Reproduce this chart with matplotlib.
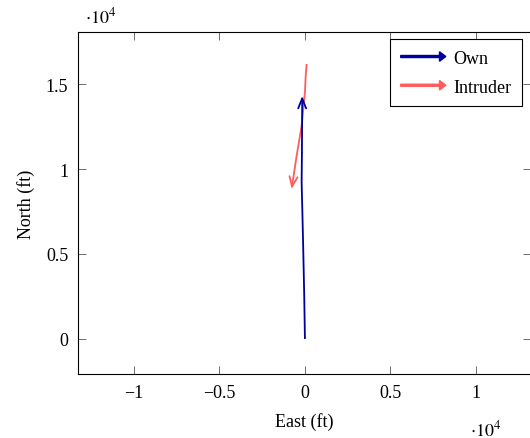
import matplotlib.pyplot as plt
import matplotlib.patches as mpatches
from matplotlib.legend_handler import HandlerPatch

plt.rcParams['font.family'] = ['Liberation Serif', 'DejaVu Serif']
plt.rcParams['mathtext.fontset'] = 'stix'
plt.rcParams['font.size'] = 13

# trajectories (ft)
own_east = [0, -40, -99, -150, -193, -175, -158]
own_north = [0, 2500, 5294, 7500, 9235, 11000, 14294]
intr_east = [99, 40, 0, -193, -485, -778]
intr_north = [16176, 15400, 14510, 12550, 10780, 8824]

own_color = '#00009a'
intr_color = '#ff5c5c'

fig = plt.figure(figsize=(5.30, 4.39), dpi=100)
ax = fig.add_axes([78 / 530, 64 / 439, 453 / 530, 342 / 439])


def draw_path(xs, ys, color):
    ax.plot(xs[:-1], ys[:-1], color=color, lw=1.3, solid_capstyle='butt')
    ax.annotate('', xy=(xs[-1], ys[-1]), xytext=(xs[-2], ys[-2]),
                arrowprops=dict(arrowstyle='->,head_length=0.55,head_width=0.22',
                                color=color, lw=1.3, shrinkA=0, shrinkB=0))


draw_path(own_east, own_north, own_color)
draw_path(intr_east, intr_north, intr_color)

ax.set_xlim(-1.327e4, 1.322e4)
ax.set_ylim(-0.206e4, 1.806e4)
ax.set_xticks([-1e4, -0.5e4, 0, 0.5e4, 1e4])
ax.set_xticklabels(['\u22121', '\u22120.5', '0', '0.5', '1'])
ax.set_yticks([0, 0.5e4, 1e4, 1.5e4])
ax.set_yticklabels(['0', '0.5', '1', '1.5'])
ax.tick_params(direction='in', top=True, right=True, length=6, width=0.6,
               color='#555555', pad=7, labelsize=13)
for s in ax.spines.values():
    s.set_linewidth(0.8)

ax.set_xlabel('East (ft)', labelpad=8)
ax.set_ylabel('North (ft)', labelpad=8)
fig.text(85 / 530, 1 - 17 / 439, r'$\cdot 10^4$', fontsize=13, va='center')
fig.text(470 / 530, 1 - 430 / 439, r'$\cdot 10^4$', fontsize=13, va='center')


def make_arrow(legend, orig_handle, xdescent, ydescent, width, height, fontsize):
    return mpatches.FancyArrow(0, 0.5 * height, width, 0, length_includes_head=True,
                               head_width=0.75 * height, head_length=0.5 * height,
                               width=0.16 * height)


h_own = mpatches.FancyArrow(0, 0, 1, 0, color=own_color)
h_intr = mpatches.FancyArrow(0, 0, 1, 0, color=intr_color)
leg = ax.legend([h_own, h_intr], ['Own', 'Intruder'], loc='upper right',
                bbox_to_anchor=(522 / 530, 1 - 40 / 439),
                bbox_transform=fig.transFigure, borderaxespad=0,
                handler_map={mpatches.FancyArrow: HandlerPatch(patch_func=make_arrow)},
                fancybox=False, framealpha=1, edgecolor='black',
                handlelength=2.5, borderpad=0.6, labelspacing=0.65, handletextpad=0.4)
leg.get_frame().set_linewidth(0.8)

fig.savefig('out.png', dpi=100)
